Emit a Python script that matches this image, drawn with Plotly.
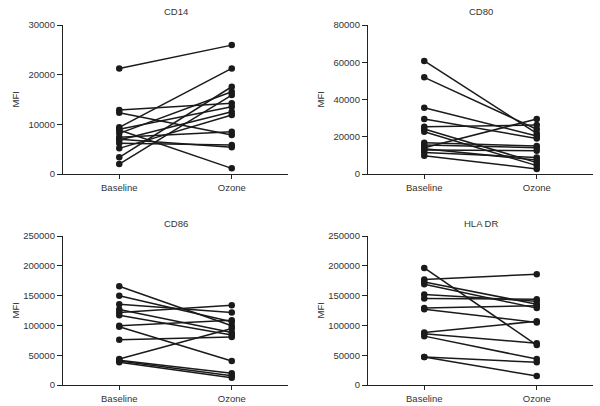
import plotly.graph_objects as go

groups = ["Baseline", "Ozone"]

# paired values per subject (baseline, ozone)
cd14_base = [21260, 12880, 12340, 9390, 9000, 8850, 8180, 7380, 7000, 6840, 6170, 5160, 3350, 2010]
cd14_ozone = [25950, 14220, 7850, 21260, 13550, 1140, 16560, 8520, 5370, 12540, 5840, 11870, 17570, 15900]

cd80_base = [60700, 51900, 35600, 29500, 25400, 24200, 22700, 16800, 15600, 14100, 13500, 12900, 11600, 9800]
cd80_ozone = [21800, 24000, 20400, 19100, 26300, 6100, 4500, 15000, 14100, 29500, 7500, 12500, 8800, 2700]

cd86_base = [165700, 149600, 135600, 126700, 121600, 117000, 99300, 97700, 75900, 43500, 41500, 40200, 38000]
cd86_ozone = [99300, 106000, 121600, 88200, 134000, 83700, 108800, 40200, 80400, 94900, 19600, 15600, 12200]

hla_base = [196400, 177000, 173000, 169000, 152000, 145000, 129000, 127000, 88000, 86000, 82000, 47000, 47000]
hla_ozone = [67000, 185800, 135600, 129000, 140600, 144000, 133000, 105000, 107000, 70000, 43500, 38000, 15000]

panels = [
    ("CD14", cd14_base, cd14_ozone, [0, 10000, 20000, 30000]),
    ("CD80", cd80_base, cd80_ozone, [0, 20000, 40000, 60000, 80000]),
    ("CD86", cd86_base, cd86_ozone, [0, 50000, 100000, 150000, 200000, 250000]),
    ("HLA DR", hla_base, hla_ozone, [0, 50000, 100000, 150000, 200000, 250000]),
]

W, H = 600, 406
# pixel boxes of the plot areas (left, right, top, bottom)
boxes = [(63, 288, 25, 174), (368, 593, 25, 174), (63, 288, 236, 385), (368, 593, 236, 385)]

fig = go.Figure()
font = dict(family="Liberation Sans, Arial, sans-serif", size=9.5, color="#333")

for i, (name, base, ozone, ticks) in enumerate(panels):
    n = "" if i == 0 else str(i + 1)
    for b, o in zip(base, ozone):
        fig.add_trace(go.Scatter(
            x=groups, y=[b, o], mode="lines+markers",
            line=dict(color="#1a1a1a", width=1.5),
            marker=dict(color="#1a1a1a", size=6.5),
            xaxis="x" + n, yaxis="y" + n, showlegend=False, cliponaxis=False,
            hoverinfo="skip"))
    l, r, t, b_ = boxes[i]
    fig.layout["xaxis" + n] = dict(
        domain=[l / W, r / W], anchor="y" + n, type="category",
        range=[-0.5, 1.5], showline=True, linecolor="#222", linewidth=1.3,
        ticks="outside", ticklen=4, tickcolor="#222", showgrid=False,
        zeroline=False, tickfont=font, automargin=False)
    fig.layout["yaxis" + n] = dict(
        domain=[1 - b_ / H, 1 - t / H], anchor="x" + n,
        range=[0, ticks[-1]], tickvals=ticks, ticktext=[str(v) for v in ticks],
        showline=True, linecolor="#222", linewidth=1.3, ticks="outside",
        ticklen=5, tickcolor="#222", showgrid=False, zeroline=False,
        tickfont=font, automargin=False)
    fig.add_annotation(text=name, x=(l + r) / 2 / W, y=1 - (t - 13) / H,
                       xref="paper", yref="paper", showarrow=False, font=font,
                       xanchor="center", yanchor="middle")
    fig.add_annotation(text="MFI", x=(l - 48) / W, y=1 - (t + b_) / 2 / H,
                       xref="paper", yref="paper", showarrow=False, font=font,
                       textangle=-90, xanchor="center", yanchor="middle")

fig.update_layout(width=W, height=H, margin=dict(l=0, r=0, t=0, b=0),
                  plot_bgcolor="white", paper_bgcolor="white", font=font)

fig.write_html("out.html", config={"displayModeBar": False},
               post_script="document.body.style.margin='0';")
